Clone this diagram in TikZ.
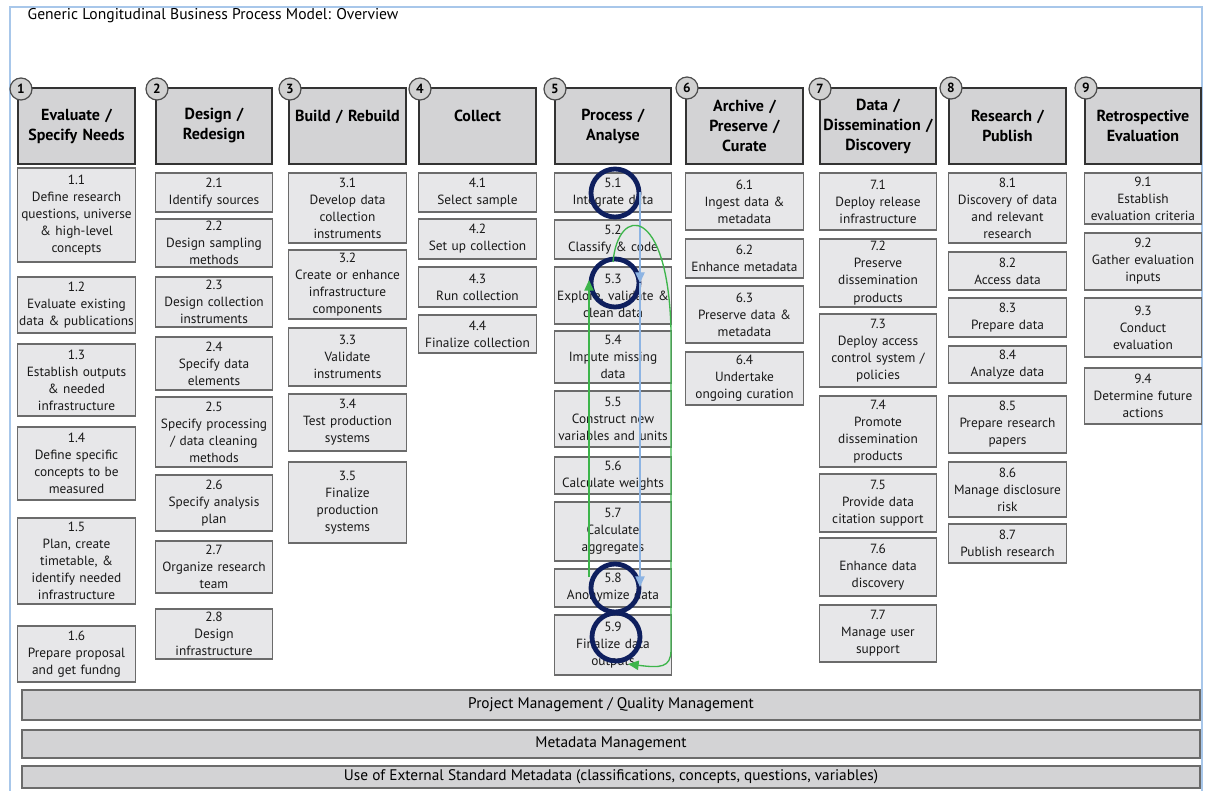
\documentclass[tikz,border=0pt]{standalone}
\usepackage{fontspec}
\setmainfont{PT Sans}
\usetikzlibrary{arrows.meta}

\definecolor{hdrgray}{HTML}{D3D3D5}
\definecolor{boxgray}{HTML}{E7E7E9}
\definecolor{edgegray}{HTML}{6B6B6B}
\definecolor{frameblue}{HTML}{A8C7EA}
\definecolor{ringnavy}{HTML}{0E1F5E}
\definecolor{flowblue}{HTML}{8DB4E3}
\definecolor{flowgreen}{HTML}{3DB54B}

\tikzset{
  span/.style n args={4}{minimum width={(#3-#1)*0.75pt}, minimum height={(#4-#2)*0.75pt},
    at={({(#1+#3)/2},{(#2+#4)/2})}},
  phase/.style={draw=black!80, line width=1.5pt, fill=hdrgray, inner sep=0pt,
    text width=84pt, align=center, font=\fontsize{12}{15}\selectfont\bfseries},
  badge/.style={circle, draw=black!70, line width=0.9pt, fill=black!18, inner sep=0pt,
    minimum size=16.5pt, font=\fontsize{10}{10}\selectfont\bfseries},
  task/.style={draw=edgegray, line width=0.8pt, fill=boxgray, inner sep=0pt,
    text width=88pt, align=center, text=black!90, font=\fontsize{10}{12.8}\selectfont},
  bar/.style={draw=edgegray, line width=0.9pt, fill=hdrgray, inner sep=0pt,
    font=\fontsize{11.5}{12}\selectfont},
  ring/.style={circle, draw=ringnavy, line width=3.6pt, minimum size=36pt, inner sep=0pt},
  flowline/.style={draw=#1, line width=1pt, -{Triangle[width=7pt,length=8pt]}}
}

\begin{document}
\begin{tikzpicture}[x=0.75pt, y=-0.75pt]
\useasboundingbox (0,0) rectangle (1211,791);
\clip (0,0) rectangle (1211,791);

% Frame and title
\draw[frameblue, line width=1.2pt] (10,7) rectangle (1202,800);
\node[anchor=west, font=\fontsize{11.7}{12}\selectfont] (title) at (23,16)
  {Generic Longitudinal Business Process Model: Overview};

% Phases
\node[phase, span={18}{88}{135}{164}] (h1) {Evaluate /\\Specify Needs};
\node[phase, span={156}{88}{272}{164}] (h2) {Design /\\Redesign};
\node[phase, span={289}{88}{406}{164}] (h3) {Build / Rebuild\\~};
\node[phase, span={419}{88}{536}{164}] (h4) {Collect\\~};
\node[phase, span={555}{88}{671}{164}] (h5) {Process /\\Analyse};
\node[phase, span={686}{88}{803}{164}] (h6) {Archive /\\Preserve /\\Curate};
\node[phase, span={820}{88}{936}{164}] (h7) {Data /\\Dissemination /\\Discovery};
\node[phase, span={949}{88}{1066}{164}] (h8) {Research /\\Publish};
\node[phase, span={1085}{88}{1201}{164}] (h9) {Retrospective\\Evaluation};

\node[badge] (n1) at (21,89) {1};
\node[badge] (n2) at (157,89) {2};
\node[badge] (n3) at (290,89) {3};
\node[badge] (n4) at (420,89) {4};
\node[badge] (n5) at (555,89) {5};
\node[badge] (n6) at (687,88) {6};
\node[badge] (n7) at (820,89) {7};
\node[badge] (n8) at (951,88) {8};
\node[badge] (n9) at (1086,88) {9};

% Column 1
\node[task, span={18}{168}{135}{262}] (s11) {1.1\\Define research\\questions, universe\\\& high-level\\concepts};
\node[task, span={18}{277}{135}{333}] (s12) {1.2\\Evaluate existing\\data \& publications};
\node[task, span={18}{344}{135}{416}] (s13) {1.3\\Establish outputs\\\& needed\\infrastructure};
\node[task, span={18}{427}{135}{500}] (s14) {1.4\\Define specific\\concepts to be\\measured};
\node[task, span={18}{518}{135}{604}] (s15) {1.5\\Plan, create\\timetable, \&\\identify needed\\infrastructure};
\node[task, span={18}{626}{135}{682}] (s16) {1.6\\Prepare proposal\\and get fundng};

% Column 2
\node[task, span={156}{173}{272}{212}] (s21) {2.1\\Identify sources};
\node[task, span={156}{219}{272}{267}] (s22) {2.2\\Design sampling\\methods};
\node[task, span={156}{277}{272}{327}] (s23) {2.3\\Design collection\\instruments};
\node[task, span={156}{337}{272}{390}] (s24) {2.4\\Specify data\\elements};
\node[task, span={156}{397}{272}{467}] (s25) {2.5\\Specify processing\\/ data cleaning\\methods};
\node[task, span={156}{475}{272}{531}] (s26) {2.6\\Specify analysis\\plan};
\node[task, span={156}{541}{272}{593}] (s27) {2.7\\Organize research\\team};
\node[task, span={156}{609}{272}{659}] (s28) {2.8\\Design\\infrastructure};

% Column 3
\node[task, span={289}{173}{406}{243}] (s31) {3.1\\Develop data\\collection\\instruments};
\node[task, span={289}{250}{406}{319}] (s32) {3.2\\Create or enhance\\infrastructure\\components};
\node[task, span={289}{328}{406}{386}] (s33) {3.3\\Validate\\instruments};
\node[task, span={289}{394}{406}{451}] (s34) {3.4\\Test production\\systems};
\node[task, span={289}{462}{406}{543}] (s35) {3.5\\Finalize\\production\\systems};

% Column 4
\node[task, span={419}{173}{536}{212}] (s41) {4.1\\Select sample};
\node[task, span={419}{219}{536}{259}] (s42) {4.2\\Set up collection};
\node[task, span={419}{267}{536}{307}] (s43) {4.3\\Run collection};
\node[task, span={419}{315}{536}{353}] (s44) {4.4\\Finalize collection};

% Column 5
\node[task, span={555}{173}{671}{212}] (s51) {5.1\\Integrate data};
\node[task, span={555}{220}{671}{259}] (s52) {5.2\\Classify \& code};
\node[task, span={555}{267}{671}{324}] (s53) {5.3\\Explore, validate \&\\clean data};
\node[task, span={555}{331}{671}{383}] (s54) {5.4\\Impute missing\\data};
\node[task, span={555}{391}{671}{447}] (s55) {5.5\\Construct new\\variables and units};
\node[task, span={555}{457}{671}{494}] (s56) {5.6\\Calculate weights};
\node[task, span={555}{502}{671}{561}] (s57) {5.7\\Calculate\\aggregates};
\node[task, span={555}{569}{671}{607}] (s58) {5.8\\Anonymize data};
\node[task, span={555}{615}{671}{675}] (s59) {5.9\\Finalize data\\outputs};

% Column 6
\node[task, span={686}{173}{803}{230}] (s61) {6.1\\Ingest data \&\\metadata};
\node[task, span={686}{239}{803}{278}] (s62) {6.2\\Enhance metadata};
\node[task, span={686}{286}{803}{343}] (s63) {6.3\\Preserve data \&\\metadata};
\node[task, span={686}{352}{803}{405}] (s64) {6.4\\Undertake\\ongoing curation};

% Column 7
\node[task, span={820}{173}{936}{230}] (s71) {7.1\\Deploy release\\infrastructure};
\node[task, span={820}{239}{936}{307}] (s72) {7.2\\Preserve\\dissemination\\products};
\node[task, span={820}{314}{936}{387}] (s73) {7.3\\Deploy access\\control system /\\policies};
\node[task, span={820}{396}{936}{467}] (s74) {7.4\\Promote\\dissemination\\products};
\node[task, span={820}{474}{936}{532}] (s75) {7.5\\Provide data\\citation support};
\node[task, span={820}{538}{936}{596}] (s76) {7.6\\Enhance data\\discovery};
\node[task, span={820}{605}{936}{662}] (s77) {7.7\\Manage user\\support};

% Column 8
\node[task, span={949}{173}{1066}{243}] (s81) {8.1\\Discovery of data\\and relevant\\research};
\node[task, span={949}{252}{1066}{290}] (s82) {8.2\\Access data};
\node[task, span={949}{298}{1066}{337}] (s83) {8.3\\Prepare data};
\node[task, span={949}{346}{1066}{383}] (s84) {8.4\\Analyze data};
\node[task, span={949}{396}{1066}{453}] (s85) {8.5\\Prepare research\\papers};
\node[task, span={949}{462}{1066}{517}] (s86) {8.6\\Manage disclosure\\risk};
\node[task, span={949}{524}{1066}{563}] (s87) {8.7\\Publish research};

% Column 9
\node[task, span={1085}{173}{1201}{224}] (s91) {9.1\\Establish\\evaluation criteria};
\node[task, span={1085}{233}{1201}{290}] (s92) {9.2\\Gather evaluation\\inputs};
\node[task, span={1085}{298}{1201}{357}] (s93) {9.3\\Conduct\\evaluation};
\node[task, span={1085}{368}{1201}{424}] (s94) {9.4\\Determine future\\actions};

% Cross-cutting bars
\node[bar, span={22}{690}{1200}{720}] (pm) {Project Management / Quality Management};
\node[bar, span={22}{730}{1200}{758}] (mm) {Metadata Management};
\node[bar, span={22}{766}{1200}{788}] (ext) {Use of External Standard Metadata (classifications, concepts, questions, variables)};

% Rings
\node[ring] (r51) at (615,193) {};
\node[ring] (r53) at (615,283) {};
\node[ring] (r58) at (615,588) {};
\node[ring] (r59) at (616,637) {};

% Flow arrows
\coordinate (bTop) at (640,192);
\coordinate (bMid) at (640,283);
\coordinate (bEnd) at (640,587);
\draw[flowline=flowblue] (bTop) -- (bMid);
\draw[flowline=flowblue] (bMid) -- (bEnd);

\coordinate (gUpStart) at (589,577);
\coordinate (gUpEnd) at (589,280);
\draw[flowline=flowgreen] (gUpStart) -- (gUpEnd);

\coordinate (gLoopStart) at (613,262);
\coordinate (gLoopEnd) at (628,664);
\draw[flowline=flowgreen] (gLoopStart) .. controls (618,205) and (668,205) .. (671,330)
  -- (671,650) .. controls (671,668) and (660,668) .. (gLoopEnd);
\end{tikzpicture}
\end{document}
